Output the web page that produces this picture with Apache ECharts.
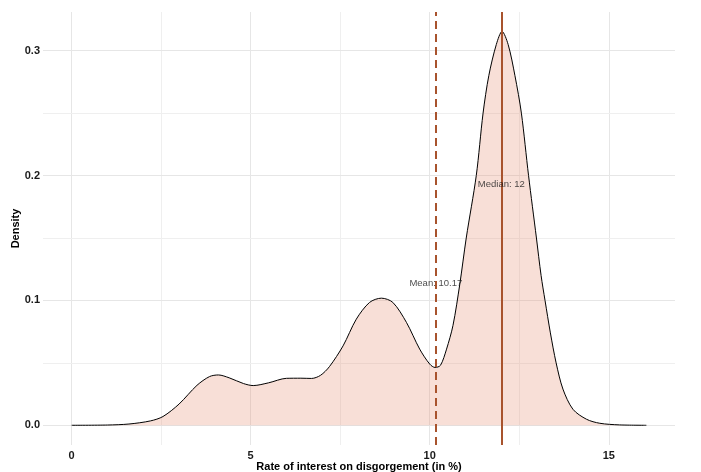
<!DOCTYPE html>
<html>
<head>
<meta charset="utf-8">
<script src="https://cdn.jsdelivr.net/npm/echarts@6/dist/echarts.min.js"></script>
<style>
  html, body { margin: 0; padding: 0; background: #ffffff; }
  #chart { width: 701px; height: 472px; }
</style>
</head>
<body>
<div id="chart"></div>
<script>
// Kernel density estimate of disgorgement interest rates (x in %, y = density)
const rateX = [0, 1.0, 1.6, 2.2, 2.55, 3.0, 3.5, 3.85, 4.1, 4.4, 4.8, 5.07, 5.5, 6.0, 6.4, 6.7, 6.95,
  7.2, 7.58, 7.95, 8.32, 8.65, 8.97, 9.35, 9.72, 10.0, 10.15, 10.3, 10.47, 10.65, 10.84, 11.02,
  11.3, 11.49, 11.65, 11.86, 12.02, 12.19, 12.38, 12.56, 12.76, 12.98, 13.11, 13.22, 13.37, 13.53,
  13.72, 14.0, 14.38, 14.75, 15.3, 16.05];
const densityY = [0, 0.0002, 0.001, 0.0035, 0.007, 0.017, 0.032, 0.039, 0.0403, 0.038, 0.0334, 0.0318,
  0.034, 0.0376, 0.0377, 0.0375, 0.040, 0.047, 0.0636, 0.085, 0.0984, 0.1018, 0.0984, 0.0824, 0.061,
  0.049, 0.0463, 0.048, 0.061, 0.080, 0.113, 0.150, 0.200, 0.250, 0.280, 0.305, 0.3154, 0.305,
  0.280, 0.250, 0.200, 0.150, 0.120, 0.100, 0.074, 0.050, 0.029, 0.0128, 0.0048, 0.0016,
  0.0003, 0];

// Summary statistics and where their labels sit
const meanRate = 10.17;
const medianRate = 12;
const annotations = [
  { text: 'Mean: 10.17', x: 10.17, y: 0.114 },
  { text: 'Median: 12', x: 12, y: 0.193 }
];

// Axis ticks and grid lines
const xTicks = [0, 5, 10, 15];
const xMinorGrid = [2.5, 7.5, 12.5];
const yTicks = [0, 0.1, 0.2, 0.3];
const yMinorGrid = [0.05, 0.15, 0.25];
const xRange = [-0.8, 16.85];
const yRange = [-0.0158, 0.331];

const gridColor = '#e6e6e6';
const minorColor = '#efefef';
const refColor = '#a8532d';
const font = '"Liberation Sans", Arial, Helvetica, sans-serif';

const gridLines = [];
xTicks.forEach(v => gridLines.push({ xAxis: v, lineStyle: { color: gridColor, width: 1, type: 'solid' } }));
xMinorGrid.forEach(v => gridLines.push({ xAxis: v, lineStyle: { color: minorColor, width: 1, type: 'solid' } }));
yTicks.forEach(v => gridLines.push({ yAxis: v, lineStyle: { color: gridColor, width: 1, type: 'solid' } }));
yMinorGrid.forEach(v => gridLines.push({ yAxis: v, lineStyle: { color: minorColor, width: 1, type: 'solid' } }));

const chart = echarts.init(document.getElementById('chart'), null, { renderer: 'canvas' });

chart.setOption({
  animation: false,
  backgroundColor: '#ffffff',
  grid: { left: 43, right: 26, top: 12, bottom: 27, containLabel: false, outerBoundsMode: 'none' },
  xAxis: {
    type: 'value',
    min: xRange[0],
    max: xRange[1],
    name: 'Rate of interest on disgorgement (in %)',
    nameLocation: 'middle',
    nameGap: 16,
    nameMoveOverlap: false,
    nameTextStyle: { fontFamily: font, fontWeight: 'bold', fontSize: 11, color: '#000' },
    axisLine: { show: false },
    axisTick: { show: false, customValues: xTicks },
    splitLine: { show: false },
    axisLabel: {
      customValues: xTicks,
      margin: 5,
      fontFamily: font, fontWeight: 'bold', fontSize: 11, color: '#1a1a1a',
      formatter: v => String(v)
    }
  },
  yAxis: {
    type: 'value',
    min: yRange[0],
    max: yRange[1],
    name: 'Density',
    nameLocation: 'middle',
    nameGap: 22,
    nameRotate: 90,
    nameMoveOverlap: false,
    nameTextStyle: { fontFamily: font, fontWeight: 'bold', fontSize: 11, color: '#000' },
    axisLine: { show: false },
    axisTick: { show: false, customValues: yTicks },
    splitLine: { show: false },
    axisLabel: {
      customValues: yTicks,
      margin: 3,
      fontFamily: font, fontWeight: 'bold', fontSize: 11, color: '#1a1a1a',
      formatter: v => v.toFixed(1)
    }
  },
  series: [
    {
      // background grid
      type: 'line',
      data: [],
      silent: true,
      z: 0,
      markLine: {
        silent: true,
        z: 0,
        symbol: 'none',
        label: { show: false },
        animation: false,
        data: gridLines
      }
    },
    {
      type: 'line',
      data: rateX.map((x, i) => [x, densityY[i]]),
      smooth: 0.3,
      symbol: 'none',
      z: 2,
      lineStyle: { color: '#000000', width: 1 },
      areaStyle: { color: 'rgba(232,145,118,0.42)', origin: 0 },
      markLine: {
        silent: true,
        symbol: 'none',
        label: { show: false },
        z: 5,
        data: [
          { xAxis: meanRate, lineStyle: { color: refColor, width: 2, type: [8, 5] } },
          { xAxis: medianRate, lineStyle: { color: refColor, width: 2, type: 'solid' } }
        ]
      }
    },
    {
      type: 'scatter',
      symbolSize: 0,
      z: 6,
      silent: true,
      data: annotations.map(a => ({ value: [a.x, a.y], name: a.text })),
      label: {
        show: true,
        position: 'inside',
        formatter: p => p.name,
        fontFamily: font,
        fontSize: 9.5,
        color: '#1a1a1a'
      }
    }
  ]
});
</script>
</body>
</html>
